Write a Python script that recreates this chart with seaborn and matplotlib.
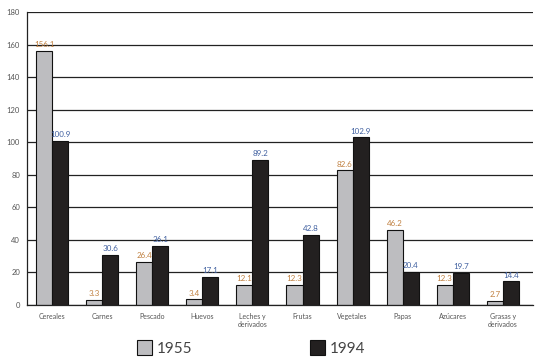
import numpy as np
import pandas as pd
import matplotlib
matplotlib.use("Agg")
import matplotlib.pyplot as plt
import seaborn as sns

categorias = ["Cereales", "Carnes", "Pescado", "Huevos", "Leches y\nderivados",
              "Frutas", "Vegetales", "Papas", "Azúcares", "Grasas y\nderivados"]
v1955 = [156.1, 3.3, 26.4, 3.4, 12.1, 12.3, 82.6, 46.2, 12.3, 2.7]
v1994 = [100.9, 30.6, 36.1, 17.1, 89.2, 42.8, 102.9, 20.4, 19.7, 14.4]
anios = ["1955", "1994"]

df = pd.DataFrame({
    "cat": categorias * 2,
    "valor": v1955 + v1994,
    "anio": [anios[0]] * len(categorias) + [anios[1]] * len(categorias),
})

sns.set_style("white")
plt.rcParams["font.family"] = ["Lato", "DejaVu Sans"]

fig = plt.figure(figsize=(5.41, 3.63), dpi=100)
ax = fig.add_axes([0.05, 0.16, 0.935, 0.807])

sns.barplot(data=df, x="cat", y="valor", hue="anio", order=categorias,
            palette=["#bcbdc0", "#231f20"], edgecolor="#111111", linewidth=0.8,
            width=0.64, ax=ax, legend=True)

ax.set_ylim(0, 180)
ax.set_yticks(range(0, 181, 20))
ax.yaxis.grid(True, color="#222222", linewidth=0.9)
ax.set_axisbelow(True)
ax.set_xlim(-0.5, len(categorias) - 0.4)
for s in ["top", "right"]:
    ax.spines[s].set_visible(False)
ax.spines["left"].set_color("#222222")
ax.spines["bottom"].set_color("#222222")
ax.spines["left"].set_linewidth(0.9)
ax.spines["bottom"].set_linewidth(0.9)
ax.tick_params(axis="y", length=3, labelsize=5.5, colors="#555555", pad=2)
ax.tick_params(axis="y", color="#222222")
ax.tick_params(axis="x", length=0, labelsize=5, colors="#555555", pad=6)
ax.set_xlabel("")
ax.set_ylabel("")

label_colors = ["#c08040", "#4060a0"]
for cont, col in zip(ax.containers, label_colors):
    ax.bar_label(cont, labels=[f"{v:g}" for v in cont.datavalues],
                 fontsize=5.8, color=col, padding=2)

handles, labels = ax.get_legend_handles_labels()
ax.get_legend().remove()
fig.legend(handles, labels, loc="lower left", bbox_to_anchor=(0.228, -0.018),
           ncol=2, frameon=False, fontsize=11, columnspacing=7.7,
           handlelength=1.0, handleheight=1.1, handletextpad=0.3,
           labelcolor="#444444")

fig.savefig("out.png", dpi=100)
